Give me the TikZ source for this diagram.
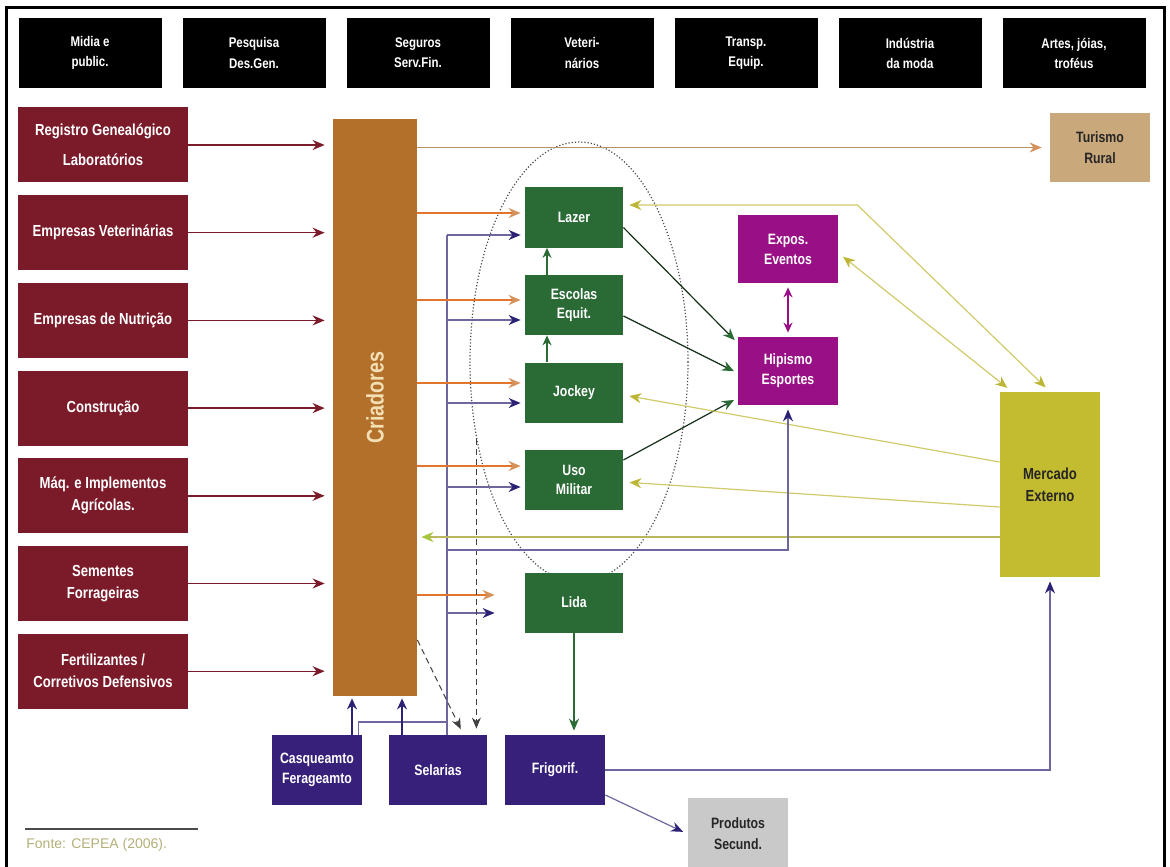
\documentclass[tikz,border=0pt]{standalone}
\usepackage{fontspec}
\setmainfont{Liberation Sans}
\newfontfamily\narrowfont[FakeStretch=0.82]{Liberation Sans}
\usetikzlibrary{arrows.meta,shapes.geometric}
\definecolor{supplyRed}{HTML}{7B1B2A}
\definecolor{breederBrown}{HTML}{B2702A}
\definecolor{breederText}{HTML}{F4DFB4}
\definecolor{useGreen}{HTML}{2A6A35}
\definecolor{sportMagenta}{HTML}{990F86}
\definecolor{serviceIndigo}{HTML}{37207A}
\definecolor{tourTan}{HTML}{C9A87B}
\definecolor{tourLine}{HTML}{B79563}
\definecolor{marketOlive}{HTML}{C3BB30}
\definecolor{byproductGray}{HTML}{C9C9C9}
\definecolor{feedOrange}{HTML}{E2742C}
\definecolor{feedTip}{HTML}{D4915A}
\definecolor{linkBlue}{HTML}{6D679E}
\definecolor{tipBlue}{HTML}{2B2275}
\definecolor{tradeYellow}{HTML}{CFCA6A}
\definecolor{tradeTip}{HTML}{BDB535}
\definecolor{returnLime}{HTML}{A6C63C}
\definecolor{sourceKhaki}{HTML}{B3AF78}

\begin{document}
\begin{tikzpicture}[x=0.5pt, y=-0.5pt, >=Stealth,
          box/.style={inner sep=1pt, align=center, text=white, font=\narrowfont\bfseries\fontsize{7}{10}\selectfont},
          sector/.style={box, fill=black, minimum width=71.5pt, minimum height=35pt},
          supply/.style={box, fill=supplyRed, minimum width=85pt, minimum height=37.5pt, font=\narrowfont\bfseries\fontsize{8}{11}\selectfont},
          use/.style={box, fill=useGreen, minimum width=49pt, minimum height=30pt, font=\narrowfont\bfseries\fontsize{7.5}{9.5}\selectfont},
          sport/.style={box, fill=sportMagenta, minimum width=50pt, minimum height=34pt, font=\narrowfont\bfseries\fontsize{7.5}{10}\selectfont},
          service/.style={box, fill=serviceIndigo, minimum height=35pt, font=\narrowfont\bfseries\fontsize{7.5}{10}\selectfont},
          outlet/.style={box, text=black!85, minimum width=50pt, font=\narrowfont\bfseries\fontsize{7.5}{10.5}\selectfont},
          supplyln/.style={-{Stealth[length=6pt,width=5pt]}, supplyRed, line width=0.7pt, shorten >=4pt},
          tourln/.style={-{Stealth[length=6pt,width=5pt,color=feedTip]}, tourLine, line width=0.7pt, shorten >=4pt},
          feedln/.style={-{Stealth[length=6pt,width=5pt,color=feedTip]}, feedOrange, line width=0.8pt},
          busln/.style={linkBlue, line width=0.6pt},
          busarr/.style={busln, -{Stealth[length=6pt,width=5pt,color=tipBlue]}},
          upln/.style={-{Stealth[length=5.5pt,width=5pt]}, tipBlue, line width=1.1pt, shorten >=1pt},
          dashln/.style={-{Stealth[length=5.5pt,width=4.5pt]}, black!75, densely dashed, line width=0.5pt, shorten >=3pt},
          climb/.style={-{Stealth[length=5pt,width=4.5pt]}, useGreen, line width=0.7pt},
          sportln/.style={-{Stealth[length=6pt,width=5pt,color=useGreen]}, black!55!useGreen, line width=0.6pt, shorten >=2pt},
          expoln/.style={{Stealth[length=5pt,width=4.5pt]}-{Stealth[length=5pt,width=4.5pt]}, sportMagenta, line width=0.8pt, shorten >=2pt, shorten <=2pt},
          tradeln/.style={-{Stealth[length=6pt,width=5pt,color=tradeTip]}, tradeYellow, line width=0.6pt, shorten >=3pt},
          tradeboth/.style={tradeln, {Stealth[length=6pt,width=5pt,color=tradeTip]}-{Stealth[length=6pt,width=5pt,color=tradeTip]}, shorten <=3pt},
          returnln/.style={-{Stealth[length=6pt,width=5pt,color=returnLime]}, tradeYellow!90!black, line width=1.1pt, shorten >=2pt},
          slaughter/.style={-{Stealth[length=6pt,width=5pt]}, useGreen, line width=1.2pt, shorten >=2pt}]
        \useasboundingbox (0,0) rectangle (1170,866);
        \draw[line width=1.5pt] (6,880) |- (1164,8) -- (1164,880);
        \foreach \t [count=\i from 0] in {{Midia e\\public.}, {Pesquisa\\Des.Gen.}, {Seguros\\Serv.Fin.}, {Veteri-\\nários}, {Transp.\\Equip.}, {Indústria\\da moda}, {Artes, jóias,\\troféus}}
          \node[sector] (sec\i) at (90+164*\i, 53) {\t};
        \node[box, fill=breederBrown, minimum width=42pt, minimum height=288.5pt, text=breederText, font=\narrowfont\bfseries\fontsize{12}{14}\selectfont] (cria) at (375,407.5) {\rotatebox{90}{\hspace{10pt}Criadores}};
        \foreach \t [count=\i from 0] in {{Registro Genealógico\\[4pt]Laboratórios}, {Empresas Veterinárias}, {Empresas de Nutrição}, {Construção}, {Máq. e Implementos\\Agrícolas.}, {Sementes\\Forrageiras}, {Fertilizantes /\\Corretivos Defensivos}} {
          \node[supply] (sup\i) at (103, 145+87.7*\i) {\t};
          \draw[supplyln] (sup\i.east) -- (sup\i.east -| cria.west);
        }
        \node[box, fill=tourTan, text=black!85, minimum width=50pt, minimum height=34.5pt, font=\narrowfont\bfseries\fontsize{7.5}{10.5}\selectfont] (tur) at (1100,147.5) {Turismo\\Rural};
        \node[draw=black!70, densely dotted, line width=0.6pt, ellipse, minimum width=109pt, minimum height=220pt] (grp) at (579,362) {};
        \node[use] (lazer) at (574,217.5) {Lazer};
        \node[use] (escolas) at (574,305) {Escolas\\Equit.};
        \node[use] (jockey) at (574,392.5) {Jockey};
        \node[use] (militar) at (574,480) {Uso\\Militar};
        \node[use] (lida) at (574,602.5) {Lida};
        \node[sport] (expos) at (788,249) {Expos.\\Eventos};
        \node[sport] (hip) at (788,371) {Hipismo\\Esportes};
        \node[service, minimum width=45pt] (casq) at (317,770) {Casqueamto\\Ferageamto};
        \node[service, minimum width=49pt] (sela) at (438,770) {Selarias};
        \node[service, minimum width=50pt] (frig) at (555,770) {Frigorif.};
        \node[outlet, fill=marketOlive, minimum height=92.5pt, font=\narrowfont\bfseries\fontsize{8}{11}\selectfont] (merc) at (1050,484.5) {Mercado\\Externo};
        \node[outlet, fill=byproductGray, minimum height=36pt] (prod) at (738,834) {Produtos\\Secund.};
        \coordinate (bus) at (447,235);
        \draw[tourln] (cria.east |- tur.west) -- (tur.west);
        \draw[busln] (bus) -- (bus |- sela.north);
        \foreach \n/\oy/\by/\s in {lazer/213/235/2pt, escolas/300/320/2pt, jockey/383/403/2pt, militar/466/487/2pt, lida/595/613/15pt} {
          \draw[feedln, shorten >=\s] (cria.east |- 0,\oy) -- (\n.west |- 0,\oy);
          \draw[busarr, shorten >=\s] (bus |- 0,\by) -- (\n.west |- 0,\by);
        }
        \draw[busln] ([xshift=-2pt]casq.north east) |- (bus |- 0,722);
        \draw[upln] ([xshift=17.5pt]casq.north) -- ([xshift=17.5pt]casq.north |- cria.south);
        \draw[upln] ([xshift=-18pt]sela.north) -- ([xshift=-18pt]sela.north |- cria.south);
        \draw[dashln] (cria.east |- 0,640) -- ([xshift=-12pt]sela.north east);
        \draw[dashln] (grp.217) -- (grp.217 |- sela.north);
        \draw[climb] ([xshift=-13.5pt]escolas.north) -- ([xshift=-13.5pt]lazer.south);
        \draw[climb] ([xshift=-13.5pt]jockey.north) -- ([xshift=-13.5pt]escolas.south);
        \draw[sportln] ([yshift=-5pt]lazer.east) -- ([yshift=14pt]hip.west);
        \draw[sportln] ([yshift=-5.5pt]escolas.east) -- ([yshift=-1pt]hip.west);
        \draw[sportln] ([yshift=10pt]militar.east) -- ([yshift=-13.5pt]hip.west);
        \draw[expoln] (expos.south) -- (hip.north);
        \draw[tradeboth] ([yshift=6.25pt]lazer.east) -- ++(234,0) -- (merc.north);
        \draw[tradeboth] ([yshift=-2pt]expos.east) -- ([xshift=-19pt]merc.north);
        \draw[tradeln] (merc.west |- 0,462) -- ([yshift=-1.25pt]jockey.east);
        \draw[tradeln] (merc.west |- 0,507) -- ([yshift=-1pt]militar.east);
        \draw[returnln] (merc.west |- 0,537) -- (cria.east |- 0,537);
        \draw[busarr, shorten >=2pt] (bus |- 0,550) -| (hip.south);
        \draw[busarr, shorten >=2pt] (frig.east) -| (merc.south);
        \draw[busarr, shorten >=2.5pt] ([yshift=-12.5pt]frig.east) -- (prod.west);
        \draw[slaughter] (lida.south) -- (lida.south |- frig.north);
        \draw[black!70, line width=0.6pt] (25,829) -- (198,829);
        \node[anchor=west, inner sep=0pt, text=sourceKhaki, font=\fontsize{7}{8}\selectfont] (src) at (26,845) {Fonte: CEPEA (2006).};
      \end{tikzpicture}
\end{document}
